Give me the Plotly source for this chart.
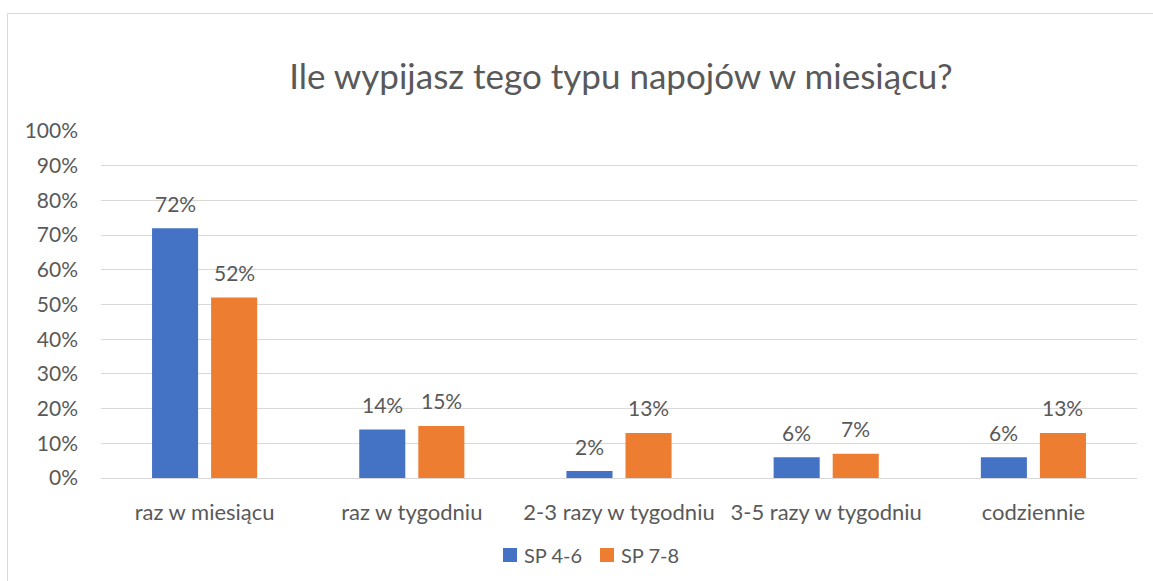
import plotly.graph_objects as go

categories = ["raz w miesiącu", "raz w tygodniu", "2-3 razy w tygodniu", "3-5 razy w tygodniu", "codziennie"]
sp_4_6 = [72, 14, 2, 6, 6]
sp_7_8 = [52, 15, 13, 7, 13]
series_names = ["SP 4-6", "SP 7-8"]
y_ticks = list(range(0, 101, 10))
y_tick_labels = [f"{v}%" for v in y_ticks]

W, H = 1153, 581
L, R, T, B = 101, 16, 131, 103
plot_w = W - L - R
plot_h = H - T - B

BLUE = "#4472C4"
ORANGE = "#ED7D31"
TEXT = "#595959"
GRID = "#D9D9D9"
FONT = "Lato"
FS = 20

colors = [BLUE, ORANGE]
series = [sp_4_6, sp_7_8]

fig = go.Figure()
for name, vals, color in zip(series_names, series, colors):
    fig.add_trace(go.Bar(
        x=categories, y=vals, name=name,
        marker=dict(color=color, line=dict(width=0)),
        showlegend=False,
    ))

# value labels above each bar
slot = plot_w / len(categories) * (1 - 0.43) / 2
for vals, shift in zip(series, [-slot / 2, slot / 2]):
    for c, v in zip(categories, vals):
        fig.add_annotation(
            x=c, y=v, xref="x", yref="y", text=f"{v}%",
            showarrow=False, xshift=shift, yshift=25,
            font=dict(family=FONT, size=FS + 1, color=TEXT),
        )

def px_to_paper_x(px):
    return (px - L) / plot_w

def px_to_paper_y(py):
    return (H - B - py) / plot_h

# outer chart frame
fig.add_shape(
    type="rect", xref="paper", yref="paper",
    x0=px_to_paper_x(7.5), x1=px_to_paper_x(1160),
    y0=px_to_paper_y(590), y1=px_to_paper_y(13.5),
    line=dict(color=GRID, width=1), fillcolor="rgba(0,0,0,0)", layer="below",
)

# legend: square swatch followed by series name
legend_y = 555
for name, color, sx in zip(series_names, colors, [503, 600]):
    fig.add_shape(
        type="rect", xref="paper", yref="paper",
        x0=px_to_paper_x(sx), x1=px_to_paper_x(sx + 14),
        y0=px_to_paper_y(legend_y + 7), y1=px_to_paper_y(legend_y - 7),
        line=dict(width=0), fillcolor=color,
    )
    fig.add_annotation(
        x=px_to_paper_x(sx + 19), y=px_to_paper_y(legend_y),
        xref="paper", yref="paper", xanchor="left", yanchor="middle",
        text=name, showarrow=False,
        font=dict(family=FONT, size=FS, color=TEXT),
    )

fig.update_layout(
    width=W, height=H,
    margin=dict(l=L, r=R, t=T, b=B, pad=0),
    paper_bgcolor="white", plot_bgcolor="white",
    barmode="group", bargap=0.43, bargroupgap=0.22,
    title=dict(
        text="Ile wypijasz tego typu napojów w miesiącu?",
        x=621 / W, xanchor="center",
        y=1 - 77 / H, yanchor="middle",
        font=dict(family=FONT, size=35, color=TEXT),
    ),
    font=dict(family=FONT, size=FS, color=TEXT),
    xaxis=dict(
        showgrid=False, showline=False, zeroline=False,
        ticks="", ticklabelstandoff=19,
        tickfont=dict(family=FONT, size=22, color=TEXT),
    ),
    yaxis=dict(
        range=[0, 100], tickvals=y_ticks, ticktext=y_tick_labels,
        showgrid=True, gridcolor=GRID, gridwidth=1,
        zeroline=True, zerolinecolor=GRID, zerolinewidth=1,
        showline=False, ticks="", ticklabelstandoff=22,
        tickfont=dict(family=FONT, size=21, color=TEXT),
    ),
    showlegend=False,
)

fig.write_html("out.html")
